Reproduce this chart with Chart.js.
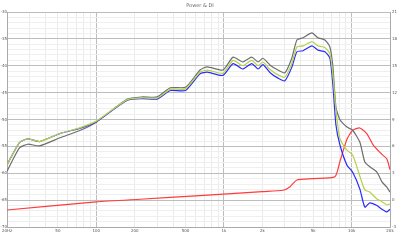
<!DOCTYPE html>
<html>
<head>
<meta charset="utf-8">
<script src="https://cdn.jsdelivr.net/npm/chart.js@4/dist/chart.umd.min.js"></script>
<style>
  html, body { margin: 0; padding: 0; background: #fff; }
  #wrap { width: 400px; height: 244px; }
</style>
</head>
<body>
<div id="wrap"><canvas id="powerChart"></canvas></div>
<script>
// frequencies (Hz) shared by the three response curves
const freqs = [20, 25, 29, 36, 52, 75, 100, 175, 230, 300, 380, 500, 650, 740, 980, 1180, 1400, 1650, 1850, 2020,
  2300, 2650, 3000, 3400, 3730, 4160, 4890, 5450, 6180, 6760, 7140, 7540, 8100, 9200, 10200, 11600, 12700, 13900,
  15800, 17300, 18900, 20000];

const grayDb = [-59.6, -55.3, -54.6, -54.9, -53.4, -52.0, -50.5, -46.2, -45.8, -45.8, -44.1, -44.0, -40.8, -40.2, -40.8,
  -38.4, -39.3, -38.4, -39.3, -38.6, -39.9, -40.8, -41.3, -38.6, -35.2, -34.8, -33.9, -34.8, -35.2, -36.5, -40.2, -47.7,
  -50.0, -51.4, -52.0, -54.2, -57.9, -58.8, -59.8, -61.6, -62.6, -63.5];

const greenDb = [-58.4, -54.3, -53.6, -54.1, -52.6, -51.5, -50.3, -46.3, -46.0, -46.0, -44.4, -44.3, -41.2, -40.8, -41.4,
  -39.0, -40.0, -39.0, -40.0, -39.3, -40.7, -41.7, -42.1, -39.6, -36.5, -36.3, -35.5, -36.3, -36.6, -37.8, -41.7, -48.2,
  -53.5, -55.7, -56.6, -60.5, -63.1, -63.5, -64.8, -65.3, -65.9, -65.7];

const blueDb = [-58.4, -54.3, -53.6, -54.1, -52.6, -51.6, -50.4, -46.4, -46.1, -46.2, -44.6, -44.6, -41.5, -41.2, -41.8,
  -39.6, -40.6, -39.6, -40.6, -39.8, -41.3, -42.3, -42.8, -40.3, -37.4, -37.2, -36.3, -37.1, -37.4, -38.6, -43.6, -51.0,
  -54.7, -58.5, -59.8, -62.9, -66.3, -65.5, -66.0, -66.7, -67.2, -66.7];

// directivity index (right axis)
const diFreqs = [20, 100, 220, 650, 2000, 2900, 3300, 3730, 4980, 7400, 8100, 9200, 10200, 11600, 13200, 14700, 17300, 18900, 20000];
const diValues = [-1.1, -0.2, 0.1, 0.5, 0.95, 1.1, 1.5, 2.25, 2.4, 2.6, 4.3, 6.8, 7.8, 8.05, 7.4, 6.2, 5.1, 4.6, 3.4];

// axis ticks
const xGridValues = [20, 30, 40, 50, 60, 70, 80, 90, 100, 200, 300, 400, 500, 600, 700, 800, 900,
  1000, 2000, 3000, 4000, 5000, 6000, 7000, 8000, 9000, 10000, 20000];
const xLabels = { 20: '20Hz', 50: '50', 100: '100', 200: '200', 500: '500', 1000: '1k', 2000: '2k', 5000: '5k', 10000: '10k', 20000: '20k' };

const pts = (xs, ys) => xs.map((f, i) => ({ x: f, y: ys[i] }));

const tickFont = { family: 'DejaVu Sans', size: 4 };

function line(label, data, color, axis, order) {
    return {
        label: label,
        data: data,
        borderColor: color,
        borderWidth: 1.2,
        pointRadius: 0,
        tension: 0.2,
        yAxisID: axis,
        order: order
    };
}

new Chart(document.getElementById('powerChart'), {
    type: 'line',
    data: {
        datasets: [
            line('Green', pts(freqs, greenDb), '#b4d24a', 'y', 0),
            line('Blue', pts(freqs, blueDb), '#2a2aff', 'y', 1),
            line('Power', pts(freqs, grayDb), '#6e6e6e', 'y', 2),
            line('DI', pts(diFreqs, diValues), '#ff3b3b', 'y2', 3)
        ]
    },
    options: {
        responsive: true,
        maintainAspectRatio: false,
        animation: false,
        layout: { padding: 0 },
        plugins: {
            legend: { display: false },
            tooltip: { enabled: false },
            title: {
                display: true,
                text: 'Power & DI',
                color: '#666',
                font: { family: 'DejaVu Sans', size: 5, weight: 'normal' },
                padding: { top: 3, bottom: 3 }
            }
        },
        scales: {
            x: {
                type: 'logarithmic',
                min: 20,
                max: 20000,
                afterBuildTicks: s => { s.ticks = xGridValues.map(v => ({ value: v })); },
                afterFit: s => { s.height = 17; },
                ticks: {
                    autoSkip: false,
                    maxRotation: 0,
                    padding: 2,
                    color: '#555',
                    font: tickFont,
                    callback: v => xLabels[v] || ''
                },
                grid: {
                    drawTicks: false,
                    color: c => ([100, 1000, 10000].includes(c.tick && c.tick.value) ? '#bdbdbd' : '#ebebeb'),
                    lineWidth: 1
                },
                border: { color: '#aaa' }
            },
            y: {
                position: 'left',
                min: -70,
                max: -30,
                afterFit: s => { s.width = 7; },
                ticks: {
                    stepSize: 1,
                    autoSkip: false,
                    padding: 0,
                    color: '#555',
                    font: tickFont,
                    callback: v => (v % 5 === 0 ? String(v) : '')
                },
                grid: {
                    drawTicks: false,
                    color: c => (c.tick && c.tick.value % 5 === 0 ? '#bdbdbd' : '#efefef'),
                    lineWidth: 1
                },
                border: { color: '#aaa' }
            },
            y2: {
                position: 'right',
                min: -3,
                max: 21,
                afterFit: s => { s.width = 10; },
                ticks: {
                    stepSize: 3,
                    padding: 2,
                    color: '#555',
                    font: tickFont
                },
                grid: { display: false, drawTicks: false },
                border: { color: '#aaa' }
            }
        }
    }
});
</script>
</body>
</html>
